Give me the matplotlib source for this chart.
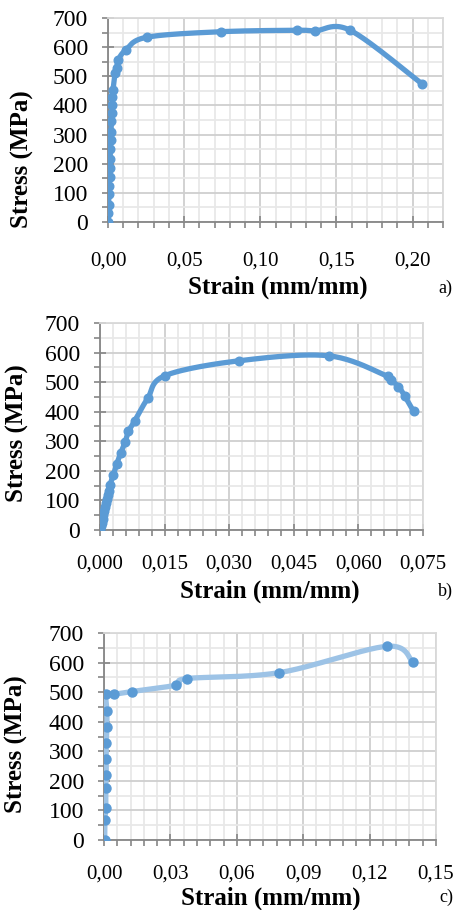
import numpy as np
import matplotlib
matplotlib.use("Agg")
import matplotlib.pyplot as plt
from matplotlib.ticker import MultipleLocator, FuncFormatter

plt.rcParams['font.family'] = ['Liberation Serif', 'DejaVu Serif']

# panel a) data
a_strain = [0.0000, 0.0002, 0.0004, 0.0006, 0.0008, 0.0010, 0.0012, 0.0014, 0.0016, 0.0018,
            0.0020, 0.0022, 0.0024, 0.0026, 0.0028, 0.0033, 0.0046, 0.0057, 0.0068, 0.0116,
            0.0254, 0.0740, 0.1240, 0.1360, 0.1590, 0.2065]
a_stress = [0, 30, 60, 95, 125, 155, 185, 215, 250, 280,
            310, 345, 375, 400, 430, 453, 510, 527, 556, 590,
            634, 653, 658, 656, 658, 473]

# panel b) data
b_strain = [0.0000, 0.0002, 0.0004, 0.0006, 0.0008, 0.0010, 0.0012, 0.0014, 0.0016, 0.0018,
            0.0020, 0.0023, 0.0031, 0.0039, 0.0048, 0.0058, 0.0066, 0.0081, 0.0111, 0.0151,
            0.0322, 0.0531, 0.0668, 0.0676, 0.0693, 0.0707, 0.0728]
b_stress = [0, 12, 25, 38, 52, 65, 78, 92, 105, 118,
            132, 152, 186, 224, 260, 296, 333, 370, 446, 522,
            572, 589, 519, 506, 485, 454, 401]

# panel c) data
c_strain = [0.0003, 0.0004, 0.0008, 0.0008, 0.0010, 0.0010, 0.0010, 0.0013, 0.0013, 0.0010,
            0.0045, 0.0125, 0.0327, 0.0375, 0.0792, 0.1277, 0.1394]
c_stress = [0, 68, 109, 177, 220, 274, 327, 381, 436, 493,
            493, 502, 524, 546, 566, 655, 602]

BLUE = '#5B9BD5'
LIGHT = '#9DC3E6'
AXIS = '#868686'


def smooth(x, y, sx, sy, n=25):
    # excel-like smoothed line: bezier through the points, computed in screen-ish units
    pts = np.column_stack([np.asarray(x) / sx, np.asarray(y) / sy])
    out = [pts[0]]
    t = np.linspace(0, 1, n)[1:, None]
    for i in range(len(pts) - 1):
        p0 = pts[i - 1] if i > 0 else pts[i]
        p1 = pts[i]
        p2 = pts[i + 1]
        p3 = pts[i + 2] if i + 2 < len(pts) else pts[i + 1]
        c1 = p1 + (p2 - p0) / 6.
        c2 = p2 - (p3 - p1) / 6.
        seg = (1 - t)**3 * p1 + 3 * (1 - t)**2 * t * c1 + 3 * (1 - t) * t**2 * c2 + t**3 * p2
        out.extend(seg)
    out = np.array(out)
    return out[:, 0] * sx, out[:, 1] * sy


def comma_fmt(dec):
    return FuncFormatter(lambda v, p: ("%.*f" % (dec, v)).replace('.', ','))


def setup(ax, xmax, xmaj, xmin, dec, wpx, hpx, xpad):
    ax.set_xlim(0, xmax)
    ax.set_ylim(0, 700)
    ax.xaxis.set_major_locator(MultipleLocator(xmaj))
    ax.xaxis.set_minor_locator(MultipleLocator(xmin))
    ax.yaxis.set_major_locator(MultipleLocator(100))
    ax.yaxis.set_minor_locator(MultipleLocator(50))
    ax.xaxis.set_major_formatter(comma_fmt(dec))
    ax.grid(which='major', color='#CFCFCF', lw=1.3, zorder=0)
    ax.grid(which='minor', color='#E8E8E8', lw=1.3, zorder=0)
    ax.set_axisbelow(True)
    for s in ['left', 'bottom']:
        ax.spines[s].set_color(AXIS)
        ax.spines[s].set_linewidth(1.3)
    for s in ['top', 'right']:
        ax.spines[s].set_color('#D9D9D9')
        ax.spines[s].set_linewidth(1.3)
    ax.tick_params(which='major', direction='inout', length=9, width=1.2, color=AXIS)
    ax.tick_params(which='minor', direction='out', length=4.5, width=1.2, color=AXIS)
    ax.tick_params(axis='y', which='major', labelsize=17, pad=10)
    ax.tick_params(axis='x', which='major', labelsize=15, pad=xpad)
    ax.tick_params(top=False, right=False, which='both')
    ax.set_xlabel('Strain (mm/mm)', fontsize=18, fontweight='bold')
    ax.set_ylabel('Stress (MPa)', fontsize=18, fontweight='bold')
    return xmax / wpx, 700. / hpx


fig = plt.figure(figsize=(4.54, 9.10), dpi=100)

# a)
ax = fig.add_axes([0.2379, 0.7560, 0.7379, 0.2242])
sx, sy = setup(ax, 0.22, 0.05, 0.01, 2, 335, 204, 17)
xs, ys = smooth(a_strain, a_stress, sx, sy)
ax.plot(xs, ys, color=BLUE, lw=3.8, solid_capstyle='round', zorder=3)
ax.plot(a_strain, a_stress, 'o', color=BLUE, ms=6.2, zorder=4)
ax.xaxis.set_label_coords(0.507, -0.26)
ax.yaxis.set_label_coords(-0.22, 0.31)
fig.text(445 / 454, 1 - 288 / 910, 'a)', fontsize=13, ha='center', va='center')

# b)
ax = fig.add_axes([0.2203, 0.4176, 0.7115, 0.2275])
sx, sy = setup(ax, 0.075, 0.015, 0.003, 3, 323, 207, 13)
xs, ys = smooth(b_strain, b_stress, sx, sy)
ax.plot(xs, ys, color=BLUE, lw=3.8, solid_capstyle='round', zorder=3)
ax.plot(b_strain, b_stress, 'o', color=BLUE, ms=6.2, zorder=4)
ax.xaxis.set_label_coords(0.526, -0.24)
ax.yaxis.set_label_coords(-0.22, 0.47)
fig.text(445 / 454, 1 - 591 / 910, 'b)', fontsize=13, ha='center', va='center')

# c)
ax = fig.add_axes([0.2291, 0.0769, 0.7313, 0.2275])
sx, sy = setup(ax, 0.15, 0.03, 0.006, 2, 332, 207, 13)
xs, ys = smooth(c_strain, c_stress, sx, sy)
ax.plot(xs, ys, color=LIGHT, lw=3.8, solid_capstyle='round', zorder=3)
ax.plot(c_strain, c_stress, 'o', color=BLUE, ms=6.5, zorder=4)
ax.xaxis.set_label_coords(0.503, -0.227)
ax.yaxis.set_label_coords(-0.229, 0.465)
fig.text(453 / 454, 1 - 897 / 910, 'c)', fontsize=13, ha='right', va='center')

fig.savefig('out.png', dpi=100)
